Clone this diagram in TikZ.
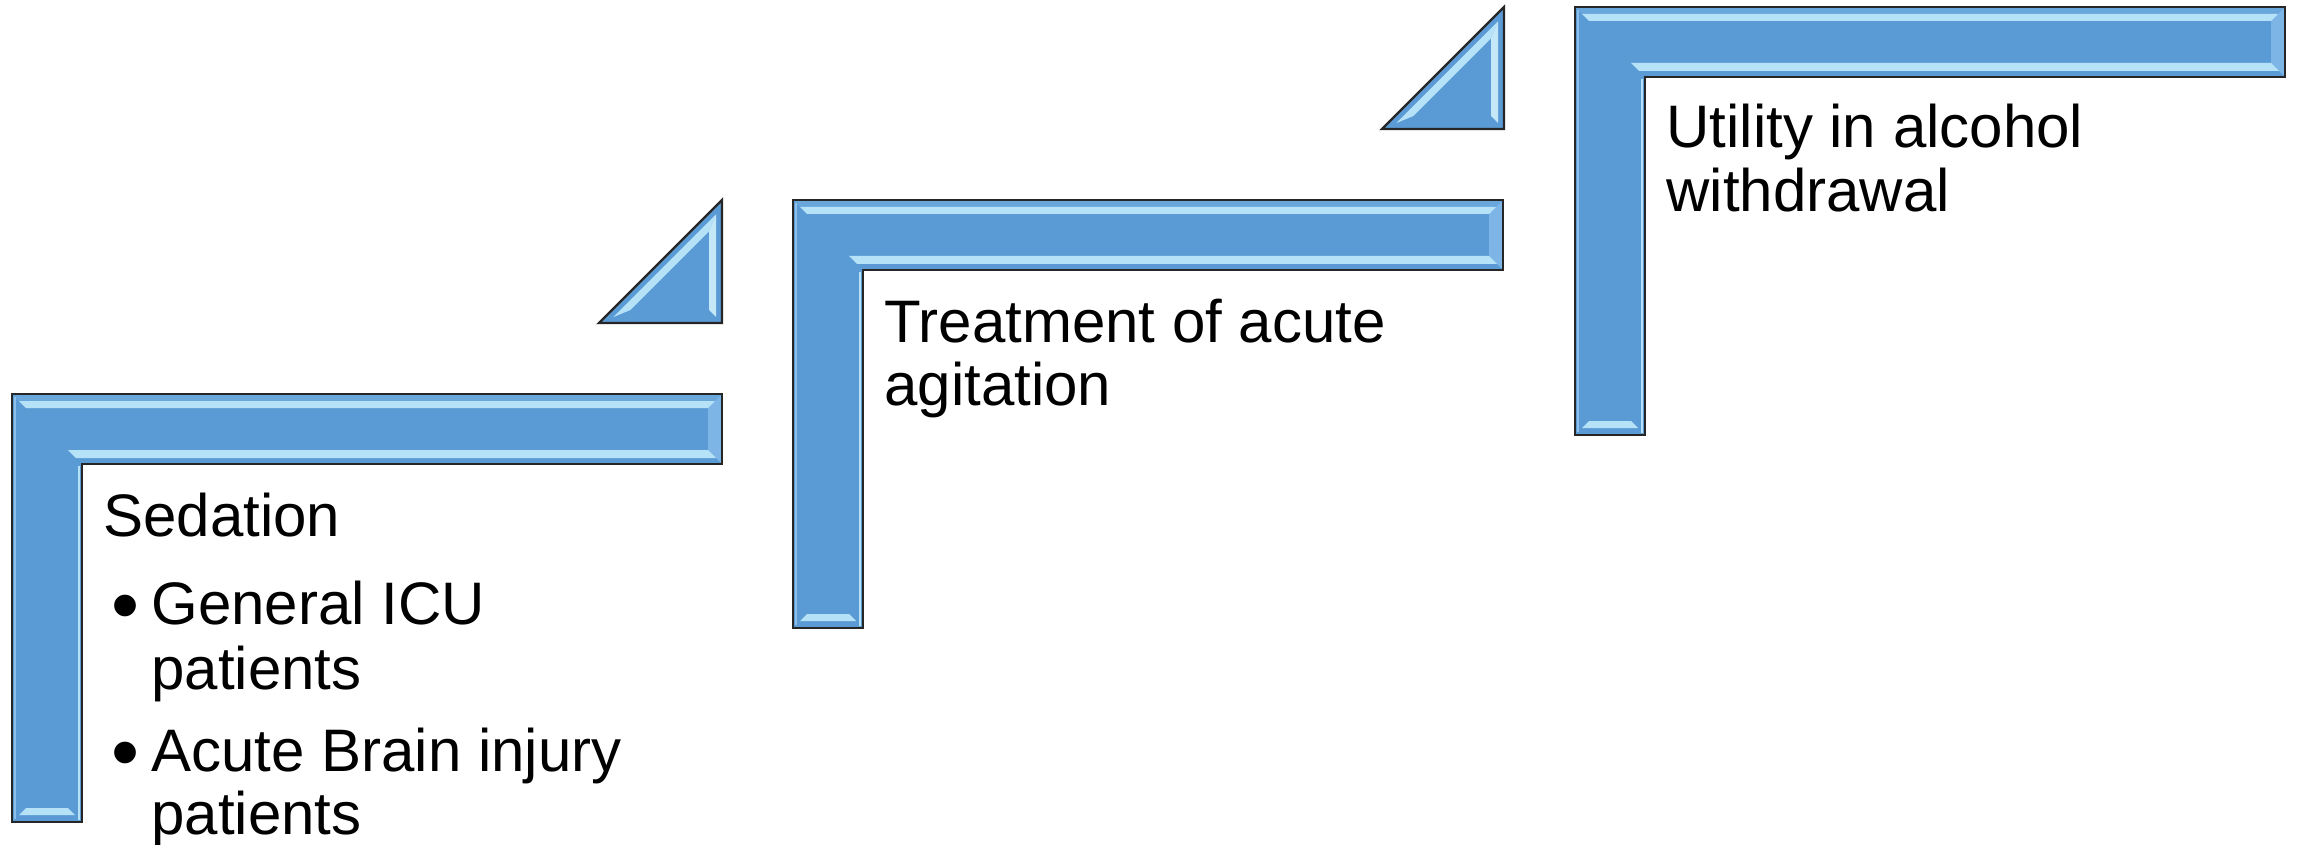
\documentclass[tikz,border=0pt]{standalone}
\usepackage{fontspec}
\setmainfont{Liberation Sans}
\definecolor{baseblue}{HTML}{5B9BD5}
\definecolor{facetblue}{HTML}{69A6DC}
\definecolor{rightblue}{HTML}{7DB6E6}
\definecolor{bandblue}{HTML}{B6E2F8}
\definecolor{edgelight}{HTML}{8CC0EA}
\definecolor{edgegray}{HTML}{262626}
\tikzset{
  shapeoutline/.style={draw=edgegray, line width=1.2pt, line join=miter},
  lbltext/.style={anchor=base west, inner sep=0pt, font=\fontsize{30}{32}\selectfont, text=black},
}
\newcommand\bigbullet{\raisebox{-4pt}{\fontsize{40}{40}\selectfont •}}
% L-shaped bevelled bar with its top-left corner at (#1,#2), pixel units, y downwards
\newcommand\drawLbar[2]{%
  \fill[baseblue] (#1,#2) -- (#1+710,#2) -- (#1+710,#2+70) -- (#1+70,#2+70)
    -- (#1+70,#2+428) -- (#1,#2+428) -- cycle;
  \fill[facetblue] (#1,#2) -- (#1+710,#2) -- (#1+696,#2+14) -- (#1+14,#2+14) -- cycle;
  \fill[rightblue] (#1+710,#2) -- (#1+710,#2+70) -- (#1+696,#2+56) -- (#1+696,#2+14) -- cycle;
  \fill[bandblue] (#1+7,#2+7) -- (#1+703,#2+7) -- (#1+696,#2+14) -- (#1+14,#2+14) -- cycle;
  \fill[bandblue] (#1+56,#2+56) -- (#1+696,#2+56) -- (#1+704,#2+64) -- (#1+64,#2+64) -- cycle;
  \fill[bandblue] (#1+14,#2+414) -- (#1+56,#2+414) -- (#1+63,#2+421) -- (#1+7,#2+421) -- cycle;
  \draw[bandblue, line width=1pt] (#1+67,#2+72) -- (#1+67,#2+426);
  \draw[edgelight, line width=1pt] (#1+3,#2+3) -- (#1+3,#2+425);
  \path[shapeoutline] (#1,#2) -- (#1+710,#2) -- (#1+710,#2+70) -- (#1+70,#2+70)
    -- (#1+70,#2+428) -- (#1,#2+428) -- cycle;
}
% right triangle: right edge x=#1, top y=#2, side #3
\newcommand\drawTri[3]{%
  \fill[baseblue] (#1-#3,#2+#3) -- (#1,#2+#3) -- (#1,#2) -- cycle;
  \fill[bandblue] ({#1-#3+2.414*6},{#2+#3-6}) -- ({#1-6},{#2+2.414*6})
    -- ({#1-13},{#2+2.414*13}) -- ({#1-#3+2.414*13},{#2+#3-13}) -- cycle;
  \fill[bandblue!80!white] ({#1-6},{#2+2.414*6}) -- ({#1-6},{#2+#3-6})
    -- ({#1-13},{#2+#3-13}) -- ({#1-13},{#2+2.414*13}) -- cycle;
  \path[shapeoutline] (#1-#3,#2+#3) -- (#1,#2+#3) -- (#1,#2) -- cycle;
}
\begin{document}
\begin{tikzpicture}[x=0.5pt, y=-0.5pt]
\useasboundingbox (0,0) rectangle (2298,845);
\drawLbar{12}{394}
\drawLbar{793}{200}
\drawLbar{1575}{7}
\drawTri{722}{200}{123}
\drawTri{1504}{7}{122}
% texts
\node[lbltext] (sed) at (103,536) {Sedation};
\node[lbltext] (b1) at (111,624) {\bigbullet};
\node[lbltext] (gen) at (151,624) {General ICU};
\node[lbltext] (pat1) at (151,689) {patients};
\node[lbltext] (b2) at (111,771) {\bigbullet};
\node[lbltext] (acu) at (151,771) {Acute Brain injury};
\node[lbltext] (pat2) at (151,834) {patients};
\node[lbltext] (trt) at (884,343) {Treatment of acute};
\node[lbltext] (agi) at (884,406) {agitation};
\node[lbltext] (uti) at (1666,148) {Utility in alcohol};
\node[lbltext] (wdr) at (1666,212) {withdrawal};
\end{tikzpicture}
\end{document}
